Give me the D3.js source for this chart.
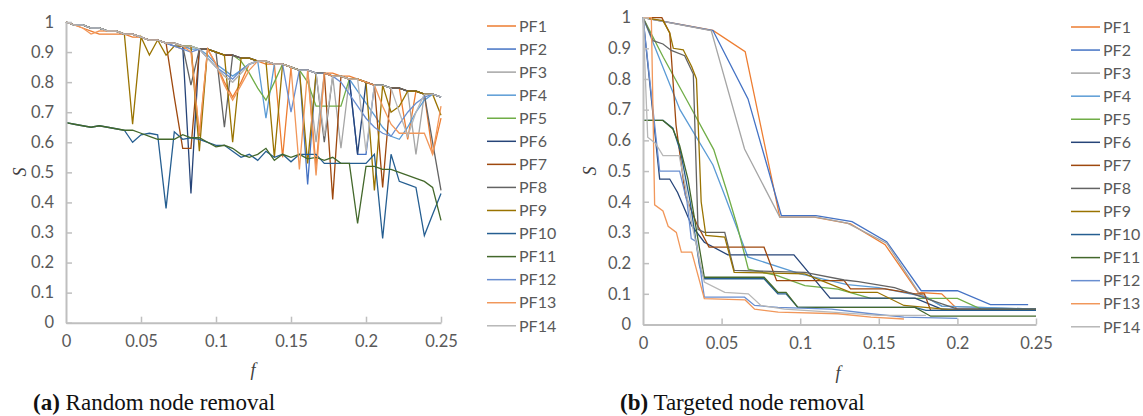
<!DOCTYPE html>
<html>
<head>
<meta charset="utf-8">
<script src="https://cdn.jsdelivr.net/npm/d3@7"></script>
<style>
  body { margin: 0; background: #fff; }
  .tick text { font-family: Lato, sans-serif; font-size: 16.5px; fill: #595959; }
  .legend text { font-family: Lato, sans-serif; font-size: 16px; fill: #595959; }
  .axis-title { font-family: "Liberation Serif", serif; font-style: italic; font-size: 18px; fill: #404040; }
  .caption { font-family: "Liberation Serif", serif; font-size: 23px; fill: #111; }
</style>
</head>
<body>
<svg id="chart" width="1143" height="416"></svg>
<script>
// Series names and colours (Excel default palette order)
var seriesNames = ["PF1", "PF2", "PF3", "PF4", "PF5", "PF6", "PF7", "PF8", "PF9", "PF10", "PF11", "PF12", "PF13", "PF14"];
var seriesColors = ["#ED7D31", "#4472C4", "#A5A5A5", "#5B9BD5", "#70AD47", "#264478", "#9E480E",
                    "#636363", "#997300", "#255E91", "#43682B", "#698ED0", "#F1975A", "#B7B7B7"];

// Axis ticks
var yTicks = [0, 0.1, 0.2, 0.3, 0.4, 0.5, 0.6, 0.7, 0.8, 0.9, 1];
var yTickLabels = ["0", "0.1", "0.2", "0.3", "0.4", "0.5", "0.6", "0.7", "0.8", "0.9", "1"];
var xTicks = [0, 0.05, 0.1, 0.15, 0.2, 0.25];
var xTickLabels = ["0", "0.05", "0.1", "0.15", "0.2", "0.25"];

// (a) Random node removal: fraction of removed nodes f, and S for each PF
var randomF = [0, 0.0056, 0.0111, 0.0167, 0.0222, 0.0278, 0.0333, 0.0389, 0.0444, 0.05,
               0.0556, 0.0611, 0.0667, 0.0722, 0.0778, 0.0833, 0.0889, 0.0944, 0.1, 0.1056,
               0.1111, 0.1167, 0.1222, 0.1278, 0.1333, 0.1389, 0.1444, 0.15, 0.1556, 0.1611,
               0.1667, 0.1722, 0.1778, 0.1833, 0.1889, 0.1944, 0.2, 0.2056, 0.2111, 0.2167,
               0.2222, 0.2278, 0.2333, 0.2389, 0.2444, 0.25];
var randomPF1 = [1,.99,.98,.97,.96,.96,.96,.96,.95,.95,.94,.94,.93,.92,.91,.92,.62,.91,.86,.80,.75,.80,.86,.87,.86,.86,.55,.85,.84,.84,.52,.83,.83,.82,.82,.81,.80,.79,.79,.78,.78,.61,.77,.76,.56,.68];
var randomPF2 = [1,.99,.99,.98,.98,.97,.97,.96,.96,.95,.94,.94,.93,.92,.92,.92,.91,.91,.90,.89,.89,.88,.88,.87,.87,.86,.86,.85,.84,.46,.83,.83,.82,.82,.81,.56,.56,.79,.79,.78,.78,.77,.77,.76,.76,.75];
var randomPF3 = [1,.99,.99,.98,.98,.97,.97,.96,.96,.95,.94,.94,.93,.93,.92,.92,.91,.88,.85,.82,.80,.83,.86,.87,.87,.86,.86,.85,.84,.84,.60,.83,.82,.58,.81,.81,.80,.79,.79,.78,.78,.77,.56,.76,.76,.75];
var randomPF4 = [1,.99,.99,.98,.98,.97,.97,.96,.96,.95,.94,.94,.93,.93,.92,.91,.91,.89,.86,.84,.82,.84,.86,.87,.68,.86,.86,.85,.84,.84,.83,.83,.82,.82,.81,.77,.73,.69,.65,.62,.61,.65,.70,.74,.76,.75];
var randomPF5 = [1,.99,.99,.98,.98,.97,.97,.96,.96,.95,.94,.94,.93,.93,.92,.92,.91,.91,.90,.89,.89,.87,.83,.78,.74,.80,.86,.85,.84,.80,.72,.72,.72,.72,.81,.81,.80,.79,.79,.78,.78,.77,.77,.76,.76,.75];
var randomPF6 = [1,.99,.99,.98,.98,.97,.97,.96,.96,.95,.94,.94,.93,.93,.92,.43,.91,.91,.90,.89,.89,.88,.88,.87,.87,.86,.86,.85,.84,.84,.83,.83,.82,.82,.81,.56,.80,.79,.79,.78,.78,.77,.77,.76,.76,.75];
var randomPF7 = [1,.99,.99,.98,.98,.97,.97,.96,.96,.95,.94,.94,.93,.75,.58,.58,.91,.91,.90,.89,.89,.88,.88,.87,.87,.86,.86,.85,.84,.84,.83,.83,.41,.82,.81,.81,.80,.79,.45,.78,.78,.77,.77,.76,.76,.75];
var randomPF8 = [1,.99,.99,.98,.98,.97,.97,.96,.96,.95,.94,.94,.93,.93,.92,.79,.91,.91,.90,.65,.89,.88,.88,.87,.87,.86,.86,.85,.84,.84,.83,.60,.82,.82,.81,.81,.80,.79,.79,.78,.78,.77,.77,.76,.60,.44];
var randomPF9 = [1,.99,.99,.98,.98,.97,.97,.96,.66,.95,.89,.94,.89,.92,.92,.92,.57,.91,.90,.89,.60,.88,.88,.87,.87,.55,.86,.85,.84,.53,.83,.83,.82,.82,.81,.81,.80,.44,.79,.70,.72,.77,.77,.76,.76,.69];
var randomPF10 = [.665,.66,.655,.65,.655,.65,.645,.64,.60,.625,.63,.625,.38,.635,.61,.615,.61,.60,.59,.59,.57,.55,.56,.54,.57,.55,.56,.535,.56,.56,.56,.53,.53,.53,.53,.53,.53,.56,.28,.56,.47,.46,.45,.29,.36,.43];
var randomPF11 = [.665,.66,.655,.65,.655,.65,.645,.64,.64,.63,.62,.61,.61,.61,.625,.615,.615,.60,.585,.59,.58,.56,.55,.56,.58,.54,.56,.55,.56,.545,.55,.54,.55,.53,.53,.33,.52,.52,.51,.51,.50,.49,.48,.47,.45,.34];
var randomPF12 = [1,.99,.99,.98,.98,.97,.97,.96,.96,.95,.94,.94,.93,.92,.91,.90,.91,.88,.85,.83,.81,.84,.86,.87,.87,.86,.86,.70,.84,.84,.83,.83,.82,.80,.76,.72,.68,.65,.63,.62,.66,.70,.73,.75,.76,.75];
var randomPF13 = [1,.99,.98,.96,.97,.97,.97,.96,.96,.95,.94,.94,.93,.93,.92,.90,.63,.91,.86,.79,.74,.79,.84,.87,.87,.86,.86,.85,.51,.84,.49,.83,.82,.82,.81,.81,.80,.79,.72,.66,.63,.63,.63,.63,.56,.72];
var randomPF14 = [1,.99,.99,.98,.98,.97,.97,.96,.96,.95,.94,.94,.93,.93,.92,.92,.91,.88,.85,.82,.80,.83,.86,.87,.87,.86,.86,.85,.84,.84,.83,.62,.82,.82,.81,.81,.57,.79,.79,.78,.70,.62,.70,.76,.76,.75];

// (b) Targeted node removal: [f, S] points for each PF
var targetedPF1 = [[0,1],[0.0445,0.958],[0.065,0.889],[0.087,0.35],[0.109,0.35],[0.132,0.328],[0.154,0.26],[0.175,0.105],[0.19,0.1],[0.2,0.05],[0.25,0.05]];
var targetedPF2 = [[0,1],[0.0445,0.958],[0.0668,0.735],[0.088,0.355],[0.11,0.355],[0.133,0.335],[0.155,0.27],[0.177,0.11],[0.2,0.11],[0.221,0.065],[0.245,0.065]];
var targetedPF3 = [[0,1],[0.0434,0.958],[0.0646,0.572],[0.087,0.35],[0.11,0.35],[0.13,0.33],[0.155,0.265],[0.176,0.1],[0.19,0.06],[0.25,0.05]];
var targetedPF4 = [[0,1],[0.0235,0.70],[0.0445,0.52],[0.052,0.42],[0.0667,0.22],[0.1,0.165],[0.13,0.13],[0.15,0.12],[0.17,0.1],[0.18,0.09],[0.19,0.06],[0.25,0.05]];
var targetedPF5 = [[0,1],[0.013,0.87],[0.028,0.73],[0.045,0.57],[0.053,0.44],[0.06,0.32],[0.067,0.18],[0.085,0.16],[0.103,0.127],[0.124,0.115],[0.145,0.085],[0.2,0.085],[0.215,0.05],[0.25,0.05]];
var targetedPF6 = [[0,1],[0.0106,0.474],[0.017,0.474],[0.022,0.43],[0.031,0.322],[0.039,0.268],[0.054,0.227],[0.096,0.227],[0.119,0.086],[0.173,0.086],[0.19,0.05],[0.25,0.05]];
var targetedPF7 = [[0,1],[0.012,1],[0.017,0.95],[0.021,0.65],[0.027,0.42],[0.034,0.33],[0.042,0.252],[0.069,0.252],[0.077,0.252],[0.085,0.143],[0.128,0.143],[0.132,0.116],[0.154,0.116],[0.173,0.1],[0.179,0.1],[0.183,0.046],[0.25,0.046]];
var targetedPF8 = [[0,1],[0.0064,0.925],[0.0127,0.914],[0.018,0.893],[0.0265,0.876],[0.032,0.816],[0.035,0.31],[0.039,0.3],[0.052,0.3],[0.058,0.176],[0.103,0.17],[0.128,0.145],[0.137,0.14],[0.16,0.12],[0.2,0.05],[0.25,0.05]];
var targetedPF9 = [[0,1],[0.0127,0.99],[0.017,0.95],[0.0193,0.9],[0.0256,0.895],[0.031,0.84],[0.034,0.8],[0.037,0.4],[0.04,0.29],[0.052,0.285],[0.058,0.17],[0.103,0.165],[0.132,0.105],[0.149,0.105],[0.166,0.062],[0.2,0.046],[0.25,0.046]];
var targetedPF10 = [[0,0.665],[0.0127,0.665],[0.019,0.64],[0.024,0.56],[0.03,0.4],[0.036,0.19],[0.039,0.149],[0.077,0.149],[0.0858,0.1],[0.091,0.1],[0.0985,0.056],[0.173,0.056],[0.18,0.046],[0.25,0.046]];
var targetedPF11 = [[0,0.665],[0.0127,0.665],[0.019,0.637],[0.0233,0.583],[0.0286,0.474],[0.0328,0.344],[0.039,0.154],[0.077,0.154],[0.0858,0.105],[0.091,0.105],[0.0985,0.056],[0.173,0.056],[0.183,0.027],[0.25,0.027]];
var targetedPF12 = [[0,1],[0.0106,0.5],[0.0233,0.5],[0.028,0.4],[0.0307,0.28],[0.034,0.27],[0.039,0.089],[0.0646,0.089],[0.071,0.062],[0.0858,0.056],[0.12,0.05],[0.145,0.035],[0.166,0.024],[0.2,0.02]];
var targetedPF13 = [[0,1],[0.0053,1],[0.0074,0.39],[0.0127,0.37],[0.016,0.32],[0.0212,0.30],[0.0244,0.236],[0.031,0.236],[0.039,0.084],[0.065,0.08],[0.071,0.05],[0.086,0.04],[0.124,0.035],[0.145,0.024],[0.166,0.018]];
var targetedPF14 = [[0,1],[0.003,0.61],[0.008,0.59],[0.0127,0.55],[0.023,0.55],[0.027,0.45],[0.031,0.33],[0.039,0.138],[0.052,0.105],[0.067,0.1],[0.075,0.062],[0.09,0.05],[0.12,0.04],[0.15,0.03],[0.18,0.03]];

var randomSeries = [randomPF1, randomPF2, randomPF3, randomPF4, randomPF5, randomPF6, randomPF7,
                    randomPF8, randomPF9, randomPF10, randomPF11, randomPF12, randomPF13, randomPF14];
var targetedSeries = [targetedPF1, targetedPF2, targetedPF3, targetedPF4, targetedPF5, targetedPF6, targetedPF7,
                      targetedPF8, targetedPF9, targetedPF10, targetedPF11, targetedPF12, targetedPF13, targetedPF14];

var svg = d3.select("#chart");

// Draw one panel: axes, lines, legend, titles and caption
function drawPanel(panel) {
  var g = svg.append("g");

  var x = d3.scaleLinear().domain([0, 0.25]).range([panel.left, panel.right]);
  var y = d3.scaleLinear().domain([0, 1]).range([panel.bottom, panel.top]);

  // Lines
  var line = d3.line()
    .x(function (d) { return x(d[0]); })
    .y(function (d) { return y(d[1]); });

  g.selectAll("path.series")
    .data(panel.series)
    .enter()
    .append("path")
    .attr("class", "series")
    .attr("d", line)
    .attr("fill", "none")
    .attr("stroke", function (d, i) { return seriesColors[i]; })
    .attr("stroke-width", 1.3)
    .attr("stroke-linejoin", "miter");

  // Y axis (ticks point inside)
  var yAxis = g.append("g")
    .attr("transform", "translate(" + panel.left + ",0)")
    .call(d3.axisLeft(y)
      .tickValues(yTicks)
      .tickFormat(function (d, i) { return yTickLabels[i]; })
      .tickSizeInner(-6)
      .tickSizeOuter(0)
      .tickPadding(12));

  // X axis (ticks point inside)
  var xAxis = g.append("g")
    .attr("transform", "translate(0," + panel.bottom + ")")
    .call(d3.axisBottom(x)
      .tickValues(xTicks)
      .tickFormat(function (d, i) { return xTickLabels[i]; })
      .tickSizeInner(-6)
      .tickSizeOuter(0)
      .tickPadding(13));

  [yAxis, xAxis].forEach(function (ax) {
    ax.select(".domain").attr("stroke", "#BFBFBF").attr("stroke-width", 2);
    ax.selectAll(".tick line").attr("stroke", "#BFBFBF").attr("stroke-width", 1.5);
  });
  xAxis.selectAll(".tick").filter(function (d) { return d === 0; }).select("line").remove();

  // Axis titles
  g.append("text")
    .attr("class", "axis-title")
    .attr("transform", "translate(" + panel.sLabel[0] + "," + panel.sLabel[1] + ") rotate(-90)")
    .attr("text-anchor", "middle")
    .attr("dy", "0.35em")
    .text("S");

  g.append("text")
    .attr("class", "axis-title")
    .attr("x", panel.fLabel[0])
    .attr("y", panel.fLabel[1])
    .attr("text-anchor", "middle")
    .attr("dy", "0.35em")
    .text("f");

  // Legend
  var legend = g.append("g").attr("class", "legend");
  var items = legend.selectAll("g")
    .data(seriesNames)
    .enter()
    .append("g")
    .attr("transform", function (d, i) {
      return "translate(" + panel.legendX + "," + (panel.legendY + i * panel.legendStep) + ")";
    });
  items.append("line")
    .attr("x1", 0).attr("x2", 29)
    .attr("y1", 0).attr("y2", 0)
    .attr("stroke", function (d, i) { return seriesColors[i]; })
    .attr("stroke-width", 1.5);
  items.append("text")
    .attr("x", 32)
    .attr("dy", "0.36em")
    .text(function (d) { return d; });

  // Caption
  var cap = g.append("text")
    .attr("class", "caption")
    .attr("x", panel.captionX)
    .attr("y", panel.captionY);
  cap.append("tspan").attr("font-weight", "bold").text(panel.captionTag);
  cap.append("tspan").text(" " + panel.captionText);
}

// Panel (a): build [f, S] pairs from the shared f array
drawPanel({
  left: 66, right: 441, top: 22, bottom: 322.7,
  series: randomSeries.map(function (s) {
    return s.map(function (v, i) { return [randomF[i], v]; });
  }),
  sLabel: [20, 172], fLabel: [253, 370],
  legendX: 487, legendY: 26, legendStep: 23.06,
  captionX: 33, captionY: 410, captionTag: "(a)", captionText: "Random node removal"
});

// Panel (b)
drawPanel({
  left: 643, right: 1036, top: 17.6, bottom: 324.5,
  series: targetedSeries,
  sLabel: [590, 171], fLabel: [838, 373],
  legendX: 1071, legendY: 27, legendStep: 23.06,
  captionX: 620, captionY: 410, captionTag: "(b)", captionText: "Targeted node removal"
});
</script>
</body>
</html>
